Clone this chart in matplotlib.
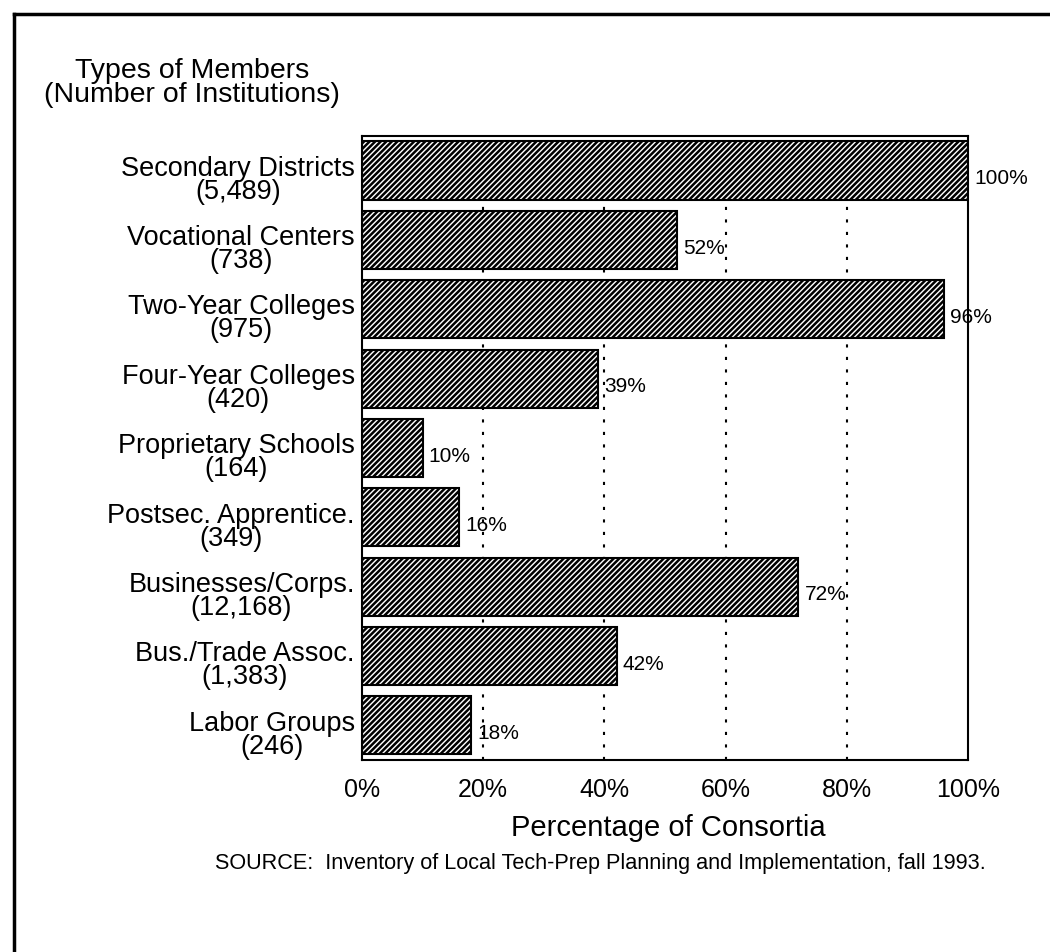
import matplotlib.pyplot as plt
from matplotlib.lines import Line2D
import numpy as np

plt.rcParams['font.family'] = ['Liberation Sans', 'DejaVu Sans']
plt.rcParams['hatch.linewidth'] = 1.8

# data
member_types = ['Secondary Districts', 'Vocational Centers', 'Two-Year Colleges',
                'Four-Year Colleges', 'Proprietary Schools', 'Postsec. Apprentice.',
                'Businesses/Corps.', 'Bus./Trade Assoc.', 'Labor Groups']
institutions = ['5,489', '738', '975', '420', '164', '349', '12,168', '1,383', '246']
pct_consortia = [100, 52, 96, 39, 10, 16, 72, 42, 18]
x_ticks = [0, 20, 40, 60, 80, 100]

fig = plt.figure(figsize=(10.5, 9.52), dpi=100)
ax = fig.add_axes([0.3448, 0.2017, 0.5771, 0.6555])

y = np.arange(len(member_types))
ax.barh(y, pct_consortia, height=0.84, color='white', edgecolor='black',
        hatch='//////', linewidth=1.5, zorder=2)

# sparse dotted grid at 20/40/60/80
for xv in x_ticks[1:-1]:
    ax.axvline(xv, color='black', linestyle=(0, (1.5, 4.5)), linewidth=1.5, zorder=1)

ax.set_xlim(0, 100)
ax.set_ylim(len(member_types) - 0.5, -0.5)
ax.set_xticks(x_ticks)
ax.set_xticklabels([f'{v}%' for v in x_ticks], fontsize=18)
ax.tick_params(axis='x', length=0, pad=13)
ax.set_yticks([])
for s in ax.spines.values():
    s.set_linewidth(1.5)

# category labels (two lines, centered)
for i, (name, n) in enumerate(zip(member_types, institutions)):
    ax.text(-0.012, i + 0.14, f'{name}\n({n})', transform=ax.get_yaxis_transform(),
            ha='right', va='center', multialignment='center', fontsize=19.5,
            linespacing=0.85)

# value labels
for i, v in enumerate(pct_consortia):
    ax.text(v + 1.0, i + 0.12, f'{v}%', ha='left', va='center', fontsize=15)

fig.text(192 / 1050, 1 - 83 / 952, 'Types of Members\n(Number of Institutions)',
         ha='center', va='center', fontsize=20.5, linespacing=0.85)
fig.text(668 / 1050, 1 - 828 / 952, 'Percentage of Consortia',
         ha='center', va='center', fontsize=21)
fig.text(600 / 1050, 1 - 864 / 952,
         'SOURCE:  Inventory of Local Tech-Prep Planning and Implementation, fall 1993.',
         ha='center', va='center', fontsize=15.6)

# outer frame (left and top edges of the scanned box)
fig.add_artist(Line2D([14 / 1050, 14 / 1050], [0, 1 - 14 / 952], color='black', linewidth=2.5))
fig.add_artist(Line2D([14 / 1050, 1], [1 - 14 / 952, 1 - 14 / 952], color='black', linewidth=2.5))

fig.savefig('out.png', dpi=100)
